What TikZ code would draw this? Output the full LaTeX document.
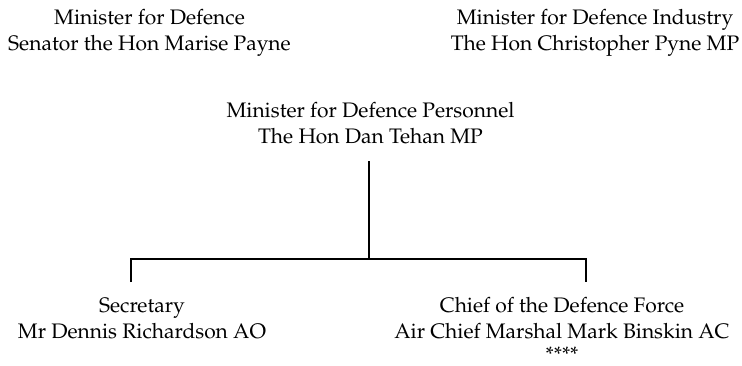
\documentclass[tikz,border=0pt]{standalone}
\usepackage[T1]{fontenc}
\usepackage{mathpazo}
\begin{document}
\begin{tikzpicture}[x=1pt,y=-1pt,
  lbl/.style={align=center,inner sep=0pt,font=\fontsize{21}{26}\selectfont},
  conn/.style={line width=1.8pt}]
\useasboundingbox (0,0) rectangle (742,365);
\node[lbl] (def) at (149.5,33.2) {Minister for Defence\\Senator the Hon Marise Payne};
\node[lbl] (ind) at (595,33.2) {Minister for Defence Industry\\The Hon Christopher Pyne MP};
\node[lbl] (per) at (370.5,123.4) {Minister for Defence Personnel\\The Hon Dan Tehan MP};
\node[lbl] (sec) at (142,318.8) {Secretary\\Mr Dennis Richardson AO};
\node[lbl] (cdf) at (562,329) {Chief of the Defence Force\\Air Chief Marshal Mark Binskin AC\\[-3pt]****};
\coordinate (pt) at (369,161);
\coordinate (j) at (369,259);
\coordinate (jl) at (131,259);
\coordinate (jr) at (586,259);
\coordinate (el) at (131,282);
\coordinate (er) at (586,282);
\draw[conn] (pt) -- (j);
\draw[conn] (el) -- (jl) -- (jr) -- (er);
\end{tikzpicture}
\end{document}
